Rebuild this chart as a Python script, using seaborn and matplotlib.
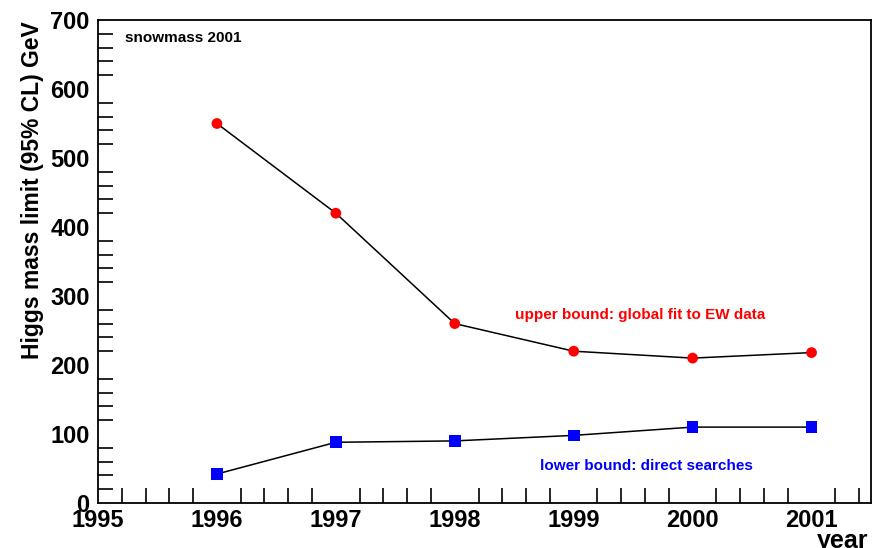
import matplotlib
matplotlib.use("Agg")
import matplotlib.pyplot as plt
import seaborn as sns
import pandas as pd
from matplotlib.ticker import MultipleLocator

years = [1996, 1997, 1998, 1999, 2000, 2001]
upper = [550, 420, 260, 220, 210, 218]
lower = [42, 88, 90, 98, 110, 110]
xticks = [1995, 1996, 1997, 1998, 1999, 2000, 2001]
yticks = [0, 100, 200, 300, 400, 500, 600, 700]

sns.set_theme(style="white")
plt.rcParams['font.family'] = ['Liberation Sans', 'DejaVu Sans']
plt.rcParams['text.color'] = 'black'
plt.rcParams['xtick.color'] = 'black'
plt.rcParams['ytick.color'] = 'black'

df = pd.DataFrame({"year": years, "upper": upper, "lower": lower})

fig = plt.figure(figsize=(8.73, 5.48), dpi=100)
ax = fig.add_axes([98/873, 1-503/548, (871-98)/873, (503-20)/548])

sns.lineplot(data=df, x="year", y="upper", color="black", lw=1.1, ax=ax)
sns.lineplot(data=df, x="year", y="lower", color="black", lw=1.1, ax=ax)
sns.scatterplot(data=df, x="year", y="upper", color="red", marker="o", s=60,
                edgecolor="none", ax=ax, zorder=5)
sns.scatterplot(data=df, x="year", y="lower", color="blue", marker="s", s=70,
                edgecolor="none", ax=ax, zorder=5)

ax.set_xlim(1995, 2001.5)
ax.set_ylim(0, 700)
ax.set_xticks(xticks)
ax.set_yticks(yticks)
ax.set_xticklabels([str(v) for v in xticks], fontsize=17, fontweight="bold", color="black")
ax.set_yticklabels([str(v) for v in yticks], fontsize=17, fontweight="bold", color="black")
ax.xaxis.set_minor_locator(MultipleLocator(0.2))
ax.yaxis.set_minor_locator(MultipleLocator(20))
ax.tick_params(which="major", direction="in", length=22, width=1.2, color="black",
               top=False, right=False)
ax.tick_params(which="minor", direction="in", length=11, width=1.2, color="black",
               top=False, right=False, bottom=True, left=True)
ax.tick_params(axis="x", which="major", pad=4)
ax.tick_params(axis="y", which="major", pad=6)
for s in ax.spines.values():
    s.set_color("black")
    s.set_linewidth(1.3)
ax.grid(False)

ax.set_xlabel("")
ax.set_ylabel("")
fig.text(33/873, 1-190/548, "Higgs mass limit (95% CL) GeV", rotation=90,
         fontsize=16.5, fontweight="bold", ha="center", va="center")
fig.text(868/873, 1-541/548, "year", fontsize=18, fontweight="bold",
         ha="right", va="center")
fig.text(125/873, 1-38/548, "snowmass 2001", fontsize=11, fontweight="bold",
         ha="left", va="center")
fig.text(515/873, 1-315/548, "upper bound: global fit to EW data", fontsize=11,
         fontweight="bold", color="red", ha="left", va="center")
fig.text(540/873, 1-466/548, "lower bound: direct searches", fontsize=11,
         fontweight="bold", color="blue", ha="left", va="center")

fig.savefig("out.png", dpi=100, facecolor="white")
